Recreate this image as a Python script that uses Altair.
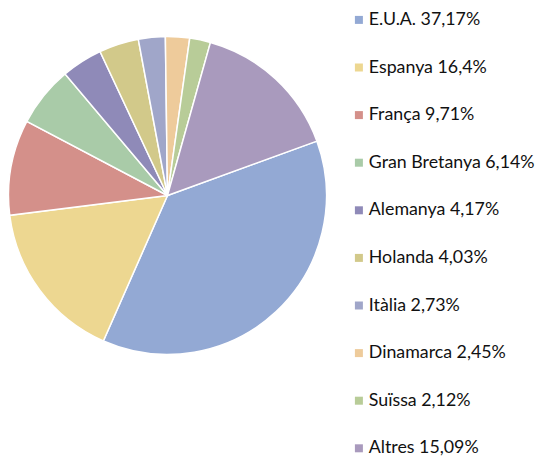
import math
import altair as alt
import pandas as pd

countries = ["E.U.A.", "Espanya", "França", "Gran Bretanya", "Alemanya",
             "Holanda", "Itàlia", "Dinamarca", "Suïssa", "Altres"]
values = [37.17, 16.4, 9.71, 6.14, 4.17, 4.03, 2.73, 2.45, 2.12, 15.09]
value_labels = ["37,17%", "16,4%", "9,71%", "6,14%", "4,17%",
                "4,03%", "2,73%", "2,45%", "2,12%", "15,09%"]
colors = ["#93a9d4", "#edd791", "#d4908a", "#a9cba8", "#8f8ab8",
          "#d2c98a", "#a0a6c9", "#eecb9b", "#b8cc98", "#a99abd"]

labels = [f"{c} {v}" for c, v in zip(countries, value_labels)]
df = pd.DataFrame({"label": labels, "value": values, "idx": range(len(values))})

start = math.radians(70)

chart = alt.Chart(df).mark_arc(outerRadius=159, stroke="white", strokeWidth=1.5).encode(
    theta=alt.Theta("value:Q", stack=True,
                    scale=alt.Scale(range=[start, start + 2 * math.pi])),
    color=alt.Color("label:N", sort=labels,
                    scale=alt.Scale(domain=labels, range=colors),
                    legend=alt.Legend(
                        title=None, orient="none", legendX=342, legendY=3,
                        padding=0,
                        symbolType="square", symbolSize=64, symbolStrokeWidth=0,
                        labelFont="Lato", labelFontSize=17.8, labelColor="#111111",
                        rowPadding=28.6, symbolOffset=0, labelOffset=1,
                        labelLimit=300)),
    order=alt.Order("idx:Q"),
).properties(
    width=319, height=375,
    autosize=alt.AutoSizeParams(type="none"),
    padding={"left": 0, "top": 0, "right": 210, "bottom": 74},
).configure_view(stroke=None)

chart.save("out.html", embed_options={"renderer": "svg", "actions": False})
